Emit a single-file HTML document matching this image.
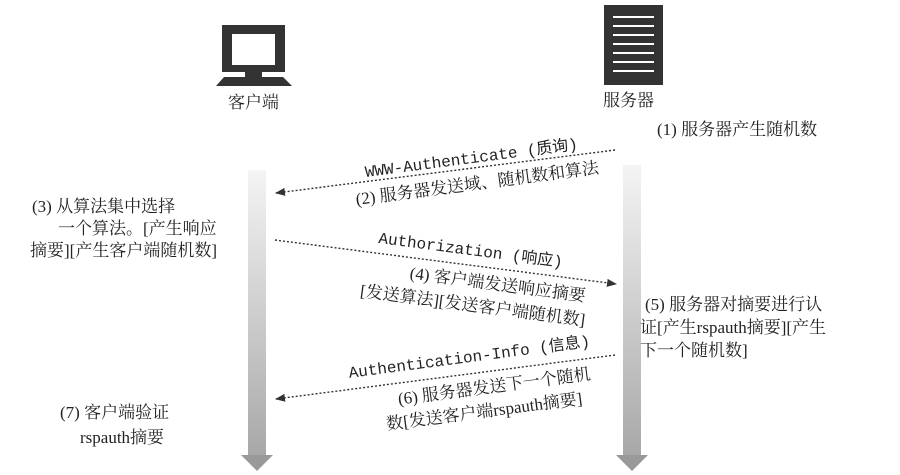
<!DOCTYPE html>
<html><head><meta charset="utf-8"><style>
html,body{margin:0;padding:0;background:#fff;}
svg{display:block}
text{font-family:"Liberation Serif","Noto Serif CJK SC","Noto Sans CJK SC",serif;font-size:17px;fill:#222}
.m{font-family:"Liberation Mono","Noto Sans CJK SC",monospace;font-size:16px}
</style></head><body>
<svg width="900" height="475" viewBox="0 0 900 475" xmlns="http://www.w3.org/2000/svg">
<defs>
<linearGradient id="g" x1="0" y1="0" x2="0" y2="1">
<stop offset="0" stop-color="#f4f4f4"/><stop offset="1" stop-color="#a8a8a8"/></linearGradient>
<marker id="ah" markerWidth="10" markerHeight="8" refX="9" refY="4" orient="auto" markerUnits="userSpaceOnUse"><path d="M0,0 L10,4 L0,8 Z" fill="#333"/></marker>
</defs>
<!-- client icon -->
<rect x="222" y="25" width="63" height="47" fill="#333"/>
<rect x="232" y="34" width="43" height="31" fill="#fff"/>
<rect x="245" y="72" width="17" height="5" fill="#333"/>
<path d="M224,77 L283,77 L292,86 L216,86 Z" fill="#333"/>
<text x="228" y="108">客户端</text>
<!-- server icon -->
<rect x="604" y="5" width="59" height="80" fill="#333"/>
<g stroke="#fff" stroke-width="2">
<line x1="613" y1="17" x2="654" y2="17"/><line x1="613" y1="26" x2="654" y2="26"/>
<line x1="613" y1="35" x2="654" y2="35"/><line x1="613" y1="44" x2="654" y2="44"/>
<line x1="613" y1="53" x2="654" y2="53"/><line x1="613" y1="62" x2="654" y2="62"/>
<line x1="613" y1="71" x2="654" y2="71"/></g>
<text x="603" y="106">服务器</text>
<!-- timelines -->
<rect x="248" y="170" width="18" height="285" fill="url(#g)"/>
<path d="M241,455 L273,455 L257,471 Z" fill="#999"/>
<rect x="623" y="165" width="18" height="290" fill="url(#g)"/>
<path d="M616,455 L648,455 L632,471 Z" fill="#999"/>
<!-- arrows -->
<g stroke="#333" stroke-width="1.4" stroke-dasharray="2,2" fill="none">
<line x1="615" y1="150" x2="276" y2="193" marker-end="url(#ah)"/>
<line x1="275" y1="240" x2="616" y2="284" marker-end="url(#ah)"/>
<line x1="615" y1="355" x2="276" y2="399" marker-end="url(#ah)"/>
</g>
<text class="m" text-anchor="middle" transform="translate(472,163) rotate(-7.5)">WWW-Authenticate (质询)</text>
<text text-anchor="middle" transform="translate(478,189) rotate(-7.5)">(2) 服务器发送域、随机数和算法</text>
<text class="m" text-anchor="middle" transform="translate(470,255) rotate(7.5)">Authorization (响应)</text>
<text text-anchor="middle" transform="translate(497,290) rotate(7.5)">(4) 客户端发送响应摘要</text>
<text text-anchor="middle" transform="translate(472,311) rotate(7.5)">[发送算法][发送客户端随机数]</text>
<text class="m" text-anchor="middle" transform="translate(470,362) rotate(-7.5)">Authentication-Info (信息)</text>
<text text-anchor="middle" transform="translate(495,392) rotate(-7.5)">(6) 服务器发送下一个随机</text>
<text text-anchor="middle" transform="translate(485,417) rotate(-7.5)">数[发送客户端rspauth摘要]</text>
<!-- side notes -->
<text x="657" y="135">(1) 服务器产生随机数</text>
<text x="32" y="212">(3) 从算法集中选择</text>
<text x="58" y="234">一个算法。[产生响应</text>
<text x="30" y="256">摘要][产生客户端随机数]</text>
<text x="645" y="310">(5) 服务器对摘要进行认</text>
<text x="640" y="333">证[产生rspauth摘要][产生</text>
<text x="640" y="356">下一个随机数]</text>
<text x="60" y="418">(7) 客户端验证</text>
<text x="80" y="443">rspauth摘要</text>
</svg>
</body></html>
